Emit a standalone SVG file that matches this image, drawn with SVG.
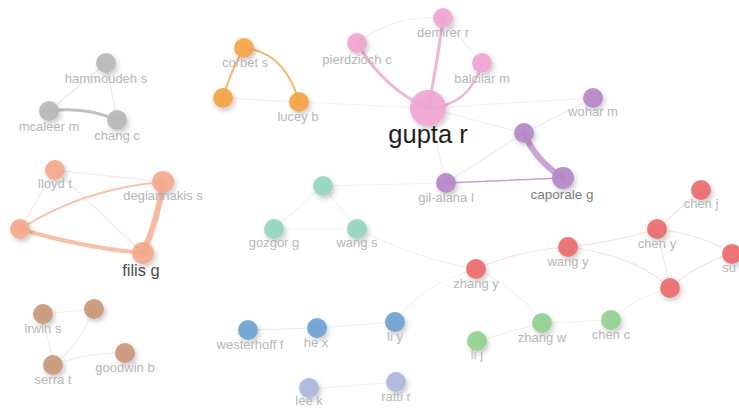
<svg xmlns="http://www.w3.org/2000/svg" width="739" height="408" viewBox="0 0 739 408">
  <defs>
    <filter id="shadow" x="-60%" y="-60%" width="220%" height="220%">
      <feDropShadow dx="2" dy="3" stdDeviation="2.5" flood-color="#000" flood-opacity="0.22"/>
    </filter>
  </defs>
  <style>
    text { font-family: "Liberation Sans", Arial, sans-serif; font-size: 13px; fill: #b6b6b6; text-anchor: middle; }
    .edge { fill: none; stroke-linecap: round; }
    .faint { stroke-width: 1.2; stroke-opacity: 0.35; }
    circle { filter: url(#shadow); fill-opacity: 0.92; }
    .gray { fill: #b7b7b7; } .orange { fill: #f5a448; } .pink { fill: #f0a6d2; }
    .purple { fill: #b687c8; } .salmon { fill: #f5a98c; } .teal { fill: #93d6c0; }
    .red { fill: #eb6b6d; } .brown { fill: #c9977a; } .blue { fill: #6fa2d2; }
    .lav { fill: #adb6de; } .green { fill: #92d090; }
  </style>
  <rect width="739" height="408" fill="#ffffff"/>

  <g id="connectors">
    <!-- gray cluster -->
    <path class="edge faint" stroke="#bbbbbb" d="M106,63 L49,111"/>
    <path class="edge faint" stroke="#bbbbbb" d="M106,63 L117,120"/>
    <path class="edge" stroke="#b0b0b0" stroke-opacity="0.8" stroke-width="3" d="M49,111 Q85,106 117,120"/>
    <!-- orange cluster -->
    <path class="edge" stroke="#f5a448" stroke-opacity="0.8" stroke-width="2" d="M244,48 Q231,70 223,98"/>
    <path class="edge" stroke="#f5a448" stroke-opacity="0.8" stroke-width="2" d="M244,48 Q285,52 299,102"/>
    <path class="edge faint" stroke="#f2c49a" d="M223,98 L299,102"/>
    <path class="edge faint" stroke="#f2c6dc" d="M299,102 L428,108"/>
    <!-- pink cluster -->
    <path class="edge" stroke="#f0a0cf" stroke-opacity="0.8" stroke-width="3" d="M428,108 Q385,90 357,43"/>
    <path class="edge" stroke="#f0a0cf" stroke-opacity="0.8" stroke-width="3" d="M428,108 Q438,60 443,18"/>
    <path class="edge" stroke="#f0a0cf" stroke-opacity="0.8" stroke-width="2.5" d="M428,108 Q470,106 482,63"/>
    <path class="edge faint" stroke="#f2bcd9" d="M357,43 Q395,14 443,18"/>
    <path class="edge faint" stroke="#f2bcd9" d="M443,18 L482,63"/>
    <path class="edge faint" stroke="#f2c6dc" d="M428,108 L593,98"/>
    <path class="edge faint" stroke="#e6c6e6" d="M428,108 L524,133"/>
    <path class="edge faint" stroke="#e6c6e6" d="M428,108 L446,183"/>
    <!-- purple cluster -->
    <path class="edge" stroke="#b687c8" stroke-opacity="0.75" stroke-width="6" d="M524,133 Q535,160 563,178"/>
    <path class="edge" stroke="#b687c8" stroke-opacity="0.8" stroke-width="1.5" d="M446,183 L563,178"/>
    <path class="edge faint" stroke="#d6c0e0" d="M524,133 L593,98"/>
    <path class="edge faint" stroke="#d6c0e0" d="M524,133 L446,183"/>
    <path class="edge faint" stroke="#d9cde2" d="M323,186 L446,183"/>
    <!-- salmon cluster -->
    <path class="edge faint" stroke="#f5b8a2" d="M55,170 L163,182"/>
    <path class="edge faint" stroke="#f5b8a2" d="M55,170 L20,229"/>
    <path class="edge faint" stroke="#f5b8a2" d="M55,170 L143,253"/>
    <path class="edge" stroke="#f5a98c" stroke-opacity="0.7" stroke-width="2" d="M20,229 Q85,188 163,182"/>
    <path class="edge" stroke="#f5a98c" stroke-opacity="0.75" stroke-width="4" d="M20,229 Q85,248 143,253"/>
    <path class="edge" stroke="#f5a98c" stroke-opacity="0.8" stroke-width="6" d="M163,182 Q158,220 143,253"/>
    <!-- teal cluster -->
    <path class="edge faint" stroke="#c5e6da" d="M323,186 L274,229"/>
    <path class="edge faint" stroke="#c5e6da" d="M323,186 L357,229"/>
    <path class="edge faint" stroke="#c5e6da" d="M274,229 L357,229"/>
    <path class="edge faint" stroke="#e6d2d2" d="M357,229 Q420,260 476,269"/>
    <!-- red cluster -->
    <path class="edge faint" stroke="#f2a8aa" d="M476,269 Q520,250 568,247"/>
    <path class="edge faint" stroke="#f2a8aa" d="M568,247 Q615,242 657,229"/>
    <path class="edge faint" stroke="#f2a8aa" d="M657,229 L701,190"/>
    <path class="edge faint" stroke="#f2a8aa" d="M657,229 Q705,235 732,254"/>
    <path class="edge faint" stroke="#f2a8aa" d="M657,229 L670,288"/>
    <path class="edge faint" stroke="#f2a8aa" d="M568,247 Q635,255 670,288"/>
    <path class="edge faint" stroke="#f2a8aa" d="M732,254 Q695,265 670,288"/>
    <path class="edge faint" stroke="#e8d0c8" d="M670,288 Q630,300 611,320"/>
    <path class="edge faint" stroke="#e8d4d0" d="M476,269 Q520,290 542,323"/>
    <path class="edge faint" stroke="#ecd8c8" d="M395,322 Q420,285 476,269"/>
    <!-- green cluster -->
    <path class="edge faint" stroke="#c4e2c4" d="M477,341 L542,323"/>
    <path class="edge faint" stroke="#c4e2c4" d="M542,323 L611,320"/>
    <!-- blue cluster -->
    <path class="edge faint" stroke="#b8cce2" d="M248,330 L317,328"/>
    <path class="edge faint" stroke="#b8cce2" d="M317,328 L395,322"/>
    <!-- brown cluster -->
    <path class="edge faint" stroke="#e2c6b6" d="M43,314 L94,309"/>
    <path class="edge faint" stroke="#e2c6b6" d="M43,314 L53,365"/>
    <path class="edge faint" stroke="#e2c6b6" d="M94,309 Q80,345 53,365"/>
    <path class="edge faint" stroke="#e2c6b6" d="M53,365 Q90,352 125,353"/>
    <!-- lavender pair -->
    <path class="edge faint" stroke="#c8cde6" d="M309,389 L396,382"/>
  </g>

  <g id="n-hammoudeh"><circle class="gray" cx="106" cy="63" r="10"/><text x="106" y="83">hammoudeh s</text></g>
  <g id="n-mcaleer"><circle class="gray" cx="49" cy="111" r="10"/><text x="49" y="131">mcaleer m</text></g>
  <g id="n-chang"><circle class="gray" cx="117" cy="120" r="10"/><text x="117" y="140">chang c</text></g>

  <g id="n-corbet"><circle class="orange" cx="244" cy="48" r="10"/><text x="245" y="67">corbet s</text></g>
  <g id="n-orange3"><circle class="orange" cx="223" cy="98" r="10"/></g>
  <g id="n-lucey"><circle class="orange" cx="299" cy="102" r="10"/><text x="298" y="121">lucey b</text></g>

  <g id="n-pierdzioch"><circle class="pink" cx="357" cy="43" r="10"/><text x="357" y="64">pierdzioch c</text></g>
  <g id="n-demirer"><circle class="pink" cx="443" cy="18" r="10"/><text x="443" y="37">demirer r</text></g>
  <g id="n-balcilar"><circle class="pink" cx="482" cy="63" r="10"/><text x="482" y="83">balcilar m</text></g>
  <g id="n-gupta"><circle class="pink" cx="428" cy="108" r="18"/><text x="428" y="143" style="font-size:25.5px;fill:#1e1e1e">gupta r</text></g>

  <g id="n-wohar"><circle class="purple" cx="593" cy="98" r="10"/><text x="593" y="116">wohar m</text></g>
  <g id="n-purple5"><circle class="purple" cx="524" cy="133" r="10"/></g>
  <g id="n-caporale"><circle class="purple" cx="563" cy="178" r="11"/><text x="562" y="199" style="font-size:13.5px;fill:#7c7c7c">caporale g</text></g>
  <g id="n-gilalana"><circle class="purple" cx="446" cy="183" r="10"/><text x="446" y="202">gil-alana l</text></g>

  <g id="n-lloyd"><circle class="salmon" cx="55" cy="170" r="10"/><text x="55" y="188">lloyd t</text></g>
  <g id="n-degiannakis"><circle class="salmon" cx="163" cy="182" r="11"/><text x="163" y="200">degiannakis s</text></g>
  <g id="n-salmon4"><circle class="salmon" cx="20" cy="229" r="10"/></g>
  <g id="n-filis"><circle class="salmon" cx="143" cy="253" r="11"/><text x="141" y="276" style="font-size:16.5px;fill:#4e4e4e">filis g</text></g>

  <g id="n-teal1"><circle class="teal" cx="323" cy="186" r="10"/></g>
  <g id="n-gozgor"><circle class="teal" cx="274" cy="229" r="10"/><text x="274" y="247">gozgor g</text></g>
  <g id="n-wangs"><circle class="teal" cx="357" cy="229" r="10"/><text x="357" y="247">wang s</text></g>

  <g id="n-zhangy"><circle class="red" cx="476" cy="269" r="10"/><text x="476" y="288">zhang y</text></g>
  <g id="n-wangy"><circle class="red" cx="568" cy="247" r="10"/><text x="568" y="266">wang y</text></g>
  <g id="n-cheny"><circle class="red" cx="657" cy="229" r="10"/><text x="657" y="248">chen y</text></g>
  <g id="n-chenj"><circle class="red" cx="701" cy="190" r="10"/><text x="701" y="208">chen j</text></g>
  <g id="n-su"><circle class="red" cx="732" cy="254" r="10"/><text x="729" y="272">su</text></g>
  <g id="n-red6"><circle class="red" cx="670" cy="288" r="10"/></g>

  <g id="n-irwin"><circle class="brown" cx="43" cy="314" r="10"/><text x="43" y="333">irwin s</text></g>
  <g id="n-brown2"><circle class="brown" cx="94" cy="309" r="10"/></g>
  <g id="n-serra"><circle class="brown" cx="53" cy="365" r="10"/><text x="53" y="384">serra t</text></g>
  <g id="n-goodwin"><circle class="brown" cx="125" cy="353" r="10"/><text x="125" y="372">goodwin b</text></g>

  <g id="n-westerhoff"><circle class="blue" cx="248" cy="330" r="10"/><text x="250" y="349">westerhoff f</text></g>
  <g id="n-hex"><circle class="blue" cx="317" cy="328" r="10"/><text x="316" y="347">he x</text></g>
  <g id="n-liy"><circle class="blue" cx="395" cy="322" r="10"/><text x="395" y="341">li y</text></g>

  <g id="n-leek"><circle class="lav" cx="309" cy="388" r="10"/><text x="309" y="405">lee k</text></g>
  <g id="n-ratti"><circle class="lav" cx="396" cy="382" r="10"/><text x="396" y="401">ratti r</text></g>

  <g id="n-lij"><circle class="green" cx="477" cy="341" r="10"/><text x="477" y="359">li j</text></g>
  <g id="n-zhangw"><circle class="green" cx="542" cy="323" r="10"/><text x="542" y="342">zhang w</text></g>
  <g id="n-chenc"><circle class="green" cx="611" cy="320" r="10"/><text x="611" y="339">chen c</text></g>
</svg>
